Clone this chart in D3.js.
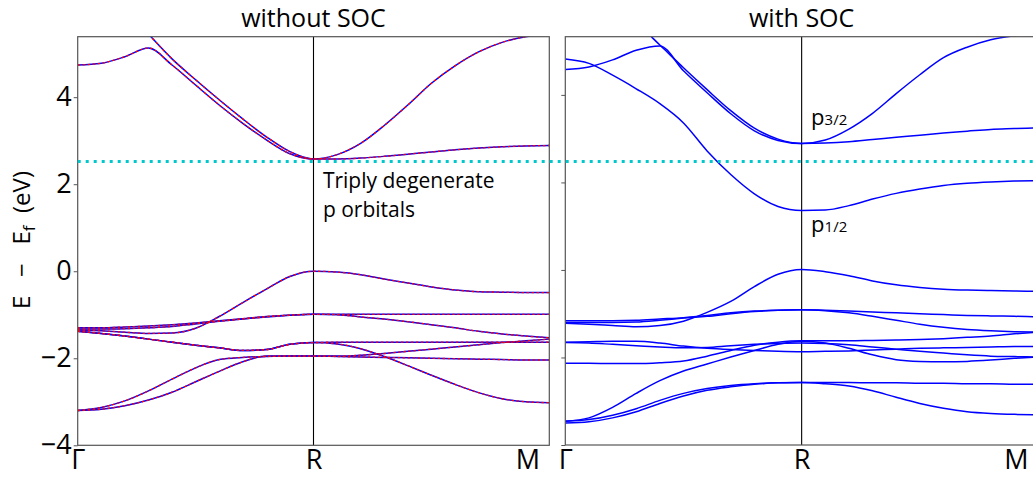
<!DOCTYPE html>
<html>
<head>
<meta charset="utf-8">
<script src="https://cdnjs.cloudflare.com/ajax/libs/d3/7.8.5/d3.min.js"></script>
<style>
  body { margin: 0; background: #fff; }
  svg { font-family: "Open Sans", "DejaVu Sans", sans-serif; }
</style>
</head>
<body>
<svg id="chart" width="1033" height="483"></svg>
<script>

// k path positions (Gamma = 0, R = 1, M = 2)
var kGrid = [0, 0.1, 0.2, 0.3, 0.4, 0.5, 0.6, 0.7, 0.8, 0.9, 1.0,
             1.1, 1.2, 1.3, 1.4, 1.5, 1.6, 1.7, 1.8, 1.9, 2.0];
var kTicks = [0, 1, 2];
var kLabels = ["Γ", "R", "M"];
var energyTicks = [-4, -2, 0, 2, 4];
var fermiLine = 2.52;

// bands without SOC (eV, read at kGrid)
var noSoc_u1 = [6.6, 6.45, 6.05, 5.45, 4.88, 4.40, 3.94, 3.50, 3.09, 2.75, 2.58, 2.68, 2.94, 3.35, 3.82, 4.32, 4.72, 5.04, 5.26, 5.39, 5.45];
var noSoc_u2 = [4.74, 4.78, 4.93, 5.13, 4.74, 4.28, 3.82, 3.40, 3.02, 2.70, 2.58, 2.58, 2.60, 2.64, 2.69, 2.74, 2.79, 2.83, 2.86, 2.88, 2.89];
var noSoc_a  = [-1.35, -1.37, -1.40, -1.43, -1.42, -1.31, -1.04, -0.72, -0.41, -0.12, 0.0, -0.02, -0.08, -0.18, -0.27, -0.36, -0.43, -0.47, -0.48, -0.49, -0.49];
var noSoc_b  = [-1.30, -1.30, -1.28, -1.26, -1.23, -1.19, -1.14, -1.09, -1.04, -1.01, -0.99, -0.99, -0.99, -0.99, -0.99, -0.99, -0.99, -0.99, -0.99, -0.99, -0.99];
var noSoc_c  = [-1.33, -1.33, -1.32, -1.30, -1.27, -1.21, -1.15, -1.10, -1.05, -1.01, -0.99, -1.00, -1.05, -1.10, -1.16, -1.23, -1.30, -1.38, -1.44, -1.49, -1.53];
var noSoc_d1 = [-1.38, -1.43, -1.49, -1.56, -1.63, -1.70, -1.76, -1.82, -1.80, -1.68, -1.64, -1.63, -1.63, -1.63, -1.63, -1.63, -1.63, -1.63, -1.63, -1.63, -1.63];
var noSoc_d2 = [-1.38, -1.43, -1.49, -1.56, -1.63, -1.70, -1.76, -1.82, -1.80, -1.68, -1.64, -1.67, -1.78, -1.96, -2.17, -2.39, -2.60, -2.79, -2.93, -3.00, -3.02];
var noSoc_e  = [-3.20, -3.13, -2.98, -2.75, -2.48, -2.22, -2.03, -1.98, -1.96, -1.95, -1.95, -1.96, -1.97, -1.98, -1.99, -2.00, -2.01, -2.02, -2.03, -2.04, -2.04];
var noSoc_f  = [-3.20, -3.17, -3.09, -2.96, -2.78, -2.54, -2.30, -2.08, -1.95, -1.95, -1.95, -1.95, -1.93, -1.89, -1.84, -1.79, -1.74, -1.69, -1.64, -1.60, -1.56];

// bands with SOC (eV, read at kGrid)
var soc_p1 = [4.82, 4.72, 4.45, 4.14, 3.80, 3.36, 2.72, 2.18, 1.74, 1.45, 1.36, 1.37, 1.47, 1.62, 1.75, 1.85, 1.93, 1.98, 2.01, 2.03, 2.04];
var soc_q1 = [4.58, 4.64, 4.80, 5.02, 5.12, 4.55, 4.05, 3.57, 3.18, 2.96, 2.89, 2.90, 2.93, 2.98, 3.03, 3.08, 3.13, 3.17, 3.21, 3.23, 3.25];
var soc_q2 = [6.4, 6.3, 6.05, 5.65, 5.14, 4.62, 4.12, 3.64, 3.24, 2.99, 2.89, 2.97, 3.22, 3.58, 4.03, 4.46, 4.85, 5.09, 5.26, 5.35, 5.40];
var soc_a  = [-1.22, -1.24, -1.27, -1.30, -1.27, -1.17, -0.97, -0.72, -0.38, -0.10, 0.01, -0.04, -0.13, -0.25, -0.34, -0.40, -0.44, -0.46, -0.47, -0.48, -0.49];
var soc_b  = [-1.16, -1.16, -1.16, -1.15, -1.12, -1.09, -1.04, -0.98, -0.94, -0.92, -0.91, -0.92, -0.94, -0.96, -0.98, -1.00, -1.02, -1.04, -1.05, -1.06, -1.07];
var soc_c  = [-1.20, -1.20, -1.20, -1.19, -1.15, -1.10, -1.06, -1.00, -0.95, -0.92, -0.91, -0.93, -0.98, -1.06, -1.15, -1.24, -1.31, -1.36, -1.39, -1.41, -1.42];
var soc_d1 = [-1.65, -1.64, -1.63, -1.63, -1.67, -1.74, -1.79, -1.82, -1.84, -1.86, -1.87, -1.86, -1.85, -1.83, -1.81, -1.79, -1.78, -1.77, -1.76, -1.75, -1.75];
var soc_d2 = [-1.66, -1.67, -1.70, -1.73, -1.76, -1.78, -1.77, -1.73, -1.70, -1.68, -1.67, -1.68, -1.71, -1.76, -1.81, -1.86, -1.90, -1.94, -1.97, -1.98, -1.99];
var soc_f  = [-2.13, -2.13, -2.14, -2.14, -2.12, -2.08, -1.97, -1.84, -1.72, -1.65, -1.62, -1.62, -1.62, -1.61, -1.60, -1.59, -1.57, -1.54, -1.51, -1.46, -1.42];
var soc_g  = [-3.46, -3.38, -3.14, -2.82, -2.53, -2.31, -2.15, -1.99, -1.84, -1.70, -1.63, -1.67, -1.79, -1.94, -2.05, -2.09, -2.10, -2.09, -2.06, -2.02, -1.99];
var soc_h  = [-3.46, -3.42, -3.32, -3.17, -2.98, -2.82, -2.71, -2.64, -2.60, -2.58, -2.57, -2.57, -2.57, -2.58, -2.58, -2.59, -2.59, -2.60, -2.60, -2.61, -2.61];
var soc_i  = [-3.50, -3.47, -3.38, -3.24, -3.05, -2.88, -2.75, -2.67, -2.61, -2.58, -2.57, -2.60, -2.65, -2.76, -2.91, -3.05, -3.16, -3.24, -3.28, -3.30, -3.31];

var noSocBands = [noSoc_u1, noSoc_u2, noSoc_a, noSoc_b, noSoc_c, noSoc_d1, noSoc_d2, noSoc_e, noSoc_f];
var socBands = [soc_p1, soc_q1, soc_q2, soc_a, soc_b, soc_c, soc_d1, soc_d2, soc_f, soc_g, soc_h, soc_i];

var svg = d3.select("#chart");

// Scales for both panels
var xL = d3.scaleLinear().domain([0, 2]).range([77.7, 549.3]),
    yL = d3.scaleLinear().domain([-4, 5.39]).range([445.3, 36.7]),
    xR = d3.scaleLinear().domain([0, 2]).range([565.3, 1038]),
    yR = d3.scaleLinear().domain([-4, 5.33]).range([445, 36.7]);

function drawPanel(id, x, y, bands, title, withLabels, doubled) {
  var x0 = x.range()[0], x1 = x.range()[1],
      y0 = y.range()[1], y1 = y.range()[0];

  svg.append("clipPath").attr("id", "clip-" + id)
    .append("rect")
      .attr("x", x0).attr("y", y0)
      .attr("width", x1 - x0).attr("height", y1 - y0);

  var g = svg.append("g");

  // vertical line at R
  g.append("line")
      .attr("x1", x(1)).attr("x2", x(1))
      .attr("y1", y0).attr("y2", y1)
      .attr("stroke", "#000").attr("stroke-width", 1.1);

  var line = d3.line()
      .curve(d3.curveMonotoneX)
      .x(function(d, i) { return x(kGrid[i]); })
      .y(function(d) { return y(d); });

  var lines = g.append("g").attr("clip-path", "url(#clip-" + id + ")");

  lines.selectAll("path.blue")
    .data(bands)
    .enter().append("path")
      .attr("class", "blue")
      .attr("d", line)
      .attr("fill", "none")
      .attr("stroke", "#0000ff")
      .attr("stroke-width", 1.5);

  if (doubled) {
    lines.selectAll("path.red")
      .data(bands)
      .enter().append("path")
        .attr("class", "red")
        .attr("d", line)
        .attr("fill", "none")
        .attr("stroke", "#ff0000")
        .attr("stroke-width", 1.3)
        .attr("stroke-dasharray", "2.5,2.5");
  }

  // y axis
  var yAxis = g.append("g")
      .attr("transform", "translate(" + x0 + ",0)")
      .call(d3.axisLeft(y)
          .tickValues(energyTicks)
          .tickSize(4)
          .tickPadding(2)
          .tickFormat(withLabels ? d3.format("d") : ""));
  yAxis.select(".domain").remove();
  yAxis.selectAll("line").attr("stroke", "#555");
  yAxis.selectAll("text")
      .attr("font-size", 27)
      .attr("fill", "#000")
      .attr("font-family", "Open Sans");

  // x axis
  var xAxis = g.append("g")
      .attr("transform", "translate(0," + y1 + ")")
      .call(d3.axisBottom(x)
          .tickValues(kTicks)
          .tickSize(0)
          .tickPadding(5)
          .tickFormat(function(d, i) { return kLabels[i]; }));
  xAxis.select(".domain").remove();
  xAxis.selectAll("text")
      .attr("font-size", 27)
      .attr("fill", "#000")
      .attr("font-family", "Open Sans")
      .attr("dx", function(d, i) { return i === 2 ? -22 : 0; });

  // frame
  g.append("rect")
      .attr("x", x0).attr("y", y0)
      .attr("width", x1 - x0).attr("height", y1 - y0)
      .attr("fill", "none")
      .attr("stroke", "#555")
      .attr("stroke-width", 1.2);

  // title
  svg.append("text")
      .attr("x", (x0 + x1) / 2)
      .attr("y", 27)
      .attr("text-anchor", "middle")
      .attr("font-size", 25)
      .text(title);
}

drawPanel("left", xL, yL, noSocBands, "without SOC", true, true);
drawPanel("right", xR, yR, socBands, "with SOC", false, false);

// dotted level across the figure
svg.append("line")
    .attr("x1", xL(0)).attr("x2", 1033)
    .attr("y1", yL(fermiLine)).attr("y2", yL(fermiLine))
    .attr("stroke", "#00c8cc")
    .attr("stroke-width", 3)
    .attr("stroke-dasharray", "3,5");

// y label
var ylab = svg.append("text")
    .attr("transform", "translate(30," + 240 + ") rotate(-90)")
    .attr("text-anchor", "middle")
    .attr("font-size", 24)
    .style("white-space", "pre");
ylab.append("tspan").text("E   −   E");
ylab.append("tspan").attr("font-size", 17).attr("dy", 5).text("f");
ylab.append("tspan").attr("dy", -5).text("  (eV)");

// annotations
svg.append("text")
    .attr("x", xL(1.04)).attr("y", yL(1.91))
    .attr("font-size", 21)
    .text("Triply degenerate");
svg.append("text")
    .attr("x", xL(1.04)).attr("y", yL(1.24))
    .attr("font-size", 21)
    .text("p orbitals");

var p32 = svg.append("text")
    .attr("x", xR(1.04)).attr("y", yR(3.31))
    .attr("font-size", 22);
p32.append("tspan").text("p");
p32.append("tspan").attr("font-size", 15).text("3/2");

var p12 = svg.append("text")
    .attr("x", xR(1.04)).attr("y", yR(0.87))
    .attr("font-size", 22);
p12.append("tspan").text("p");
p12.append("tspan").attr("font-size", 15).text("1/2");

</script>
</body>
</html>
